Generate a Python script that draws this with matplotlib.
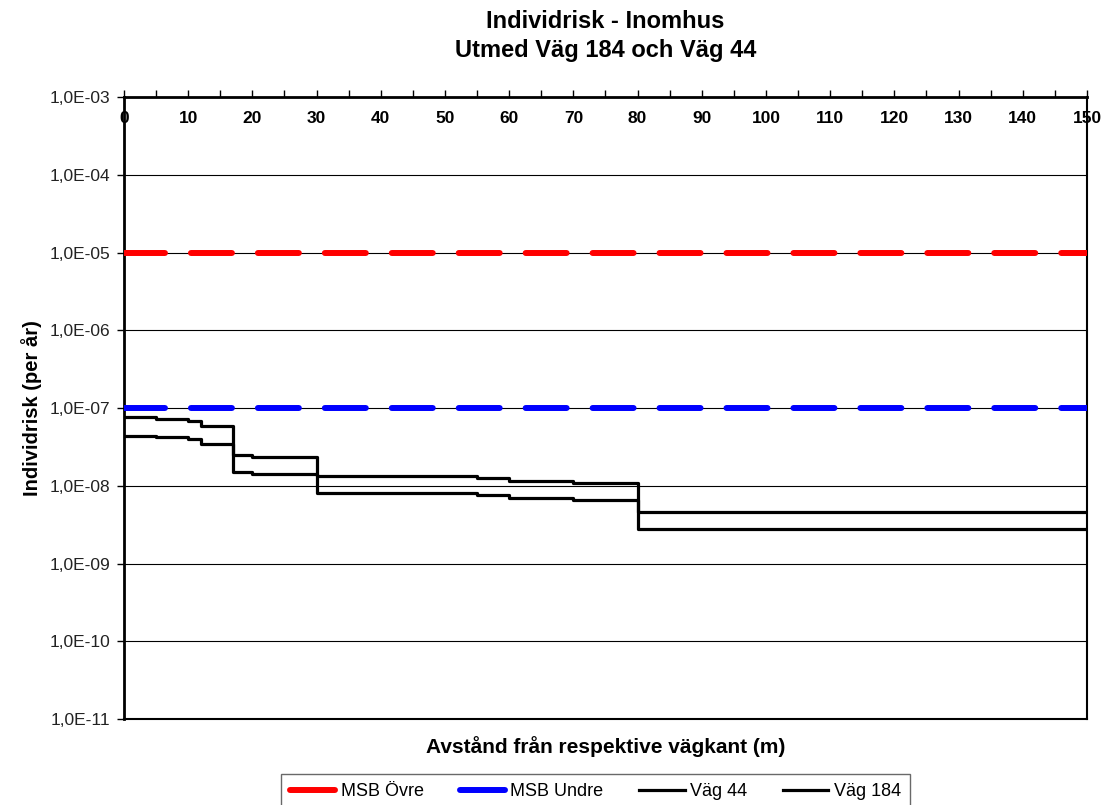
import numpy as np
import matplotlib
matplotlib.use("Agg")
import matplotlib.pyplot as plt
from matplotlib.ticker import FixedLocator, FuncFormatter, MultipleLocator
from matplotlib.lines import Line2D

plt.rcParams['font.family'] = ['Liberation Sans', 'DejaVu Sans']
plt.rcParams['lines.scale_dashes'] = False

# avstånd (m) där risknivån ändras, sista punkten upprepar värdet till 150 m
avstand = [0, 5, 10, 12, 17, 20, 30, 55, 60, 70, 80, 150]
vag44 = [7.7e-8, 7.2e-8, 6.8e-8, 5.9e-8, 2.5e-8, 2.35e-8, 1.33e-8,
         1.27e-8, 1.16e-8, 1.09e-8, 4.6e-9, 4.6e-9]
vag184 = [4.4e-8, 4.2e-8, 3.95e-8, 3.45e-8, 1.5e-8, 1.42e-8, 8.1e-9,
          7.6e-9, 7.05e-9, 6.55e-9, 2.8e-9, 2.8e-9]

msb_ovre = 1e-5
msb_undre = 1e-7
x_range = [0, 150]

fig = plt.figure(figsize=(11.11, 8.05), dpi=100)
ax = fig.add_axes([0.1116, 0.1068, 0.8668, 0.7727])

ax.set_yscale('log')
ax.set_xlim(0, 150)
ax.set_ylim(1e-11, 1e-3)

# horisontella stödlinjer per dekad
decades = [10.0 ** e for e in range(-11, -2)]
for d in decades:
    ax.axhline(d, color='black', lw=0.8, zorder=1)

dash = (0, (29.5, 18.7))
ax.plot(x_range, [msb_ovre] * 2, color='#ff0000', lw=4.3, linestyle=dash,
        dash_capstyle='round', zorder=3)
ax.plot(x_range, [msb_undre] * 2, color='#0000ff', lw=4.3, linestyle=dash,
        dash_capstyle='round', zorder=3)

ax.step(avstand, vag44, where='post', color='black', lw=2.3, zorder=4)
ax.step(avstand, vag184, where='post', color='black', lw=2.3, zorder=4)

# y-axel
ax.yaxis.set_major_locator(FixedLocator(decades))
ax.yaxis.set_minor_locator(FixedLocator([]))
ax.yaxis.set_major_formatter(FuncFormatter(lambda v, p: "1,0E-%02d" % int(round(-np.log10(v)))))
ax.tick_params(axis='y', direction='out', length=5, width=1, labelsize=12.5,
               colors='black', pad=5)
for lab in ax.get_yticklabels():
    lab.set_color('#222222')

# x-axel med etiketter överst, innanför ramen
ax.xaxis.set_major_locator(MultipleLocator(10))
ax.xaxis.set_minor_locator(MultipleLocator(5))
ax.tick_params(axis='x', which='both', top=True, bottom=False, labeltop=True,
               labelbottom=False, direction='out', length=5, width=1)
ax.tick_params(axis='x', which='major', labelsize=12.5, pad=-26)
for lab in ax.get_xticklabels():
    lab.set_fontweight('bold')

for side in ['left', 'top']:
    ax.spines[side].set_linewidth(2)
for side in ['right', 'bottom']:
    ax.spines[side].set_linewidth(1.5)

ax.set_ylabel('Individrisk (per år)', fontsize=14.5, fontweight='bold', labelpad=5)
ax.set_xlabel('Avstånd från respektive vägkant (m)', fontsize=15,
              fontweight='bold', labelpad=12)
fig.text(0.545, 0.988, 'Individrisk - Inomhus\nUtmed Väg 184 och Väg 44',
         ha='center', va='top', fontsize=17, fontweight='bold', linespacing=1.38)

handles = [
    Line2D([], [], color='#ff0000', lw=4.3, solid_capstyle='round'),
    Line2D([], [], color='#0000ff', lw=4.3, solid_capstyle='round'),
    Line2D([], [], color='black', lw=2.3),
    Line2D([], [], color='black', lw=2.3),
]
labels = ['MSB Övre', 'MSB Undre', 'Väg 44', 'Väg 184']
leg = fig.legend(handles, labels, loc='lower center', ncol=4,
                 bbox_to_anchor=(0.536, -0.016), fontsize=13, frameon=True,
                 fancybox=False, edgecolor='#444444', handlelength=2.5,
                 handletextpad=0.3, columnspacing=2.0, borderpad=0.5)
leg.get_frame().set_linewidth(1)

fig.savefig('out.png', dpi=100)
